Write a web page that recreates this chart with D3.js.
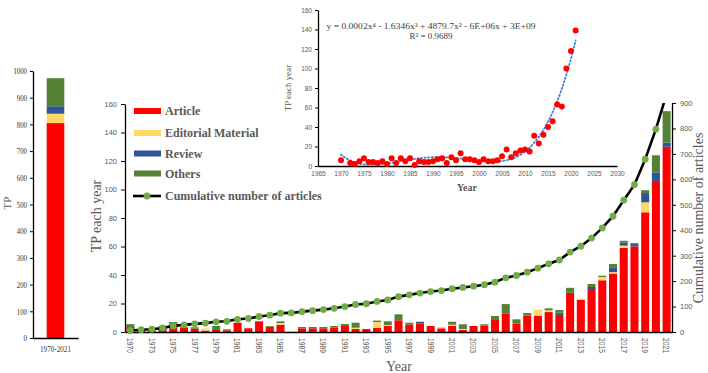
<!DOCTYPE html>
<html lang="en">
<head>
<meta charset="UTF-8">
<title>TP each year</title>
<style>
  body { margin: 0; background: #fff; }
  svg { display: block; }
  .tick text { font-family: "Liberation Sans", Arial, sans-serif; fill: #595959; }
  .serif { font-family: "Liberation Serif", "Times New Roman", serif; }
  .domain { stroke: #000; stroke-width: 1.3px; }
  .tick line { stroke: #000; }
</style>
</head>
<body>
<svg width="708" height="373"></svg>
<script src="https://d3js.org/d3.v7.min.js"></script>
<script>
// categories (no paper in 1971)
const years = [1970, 1972, 1973, 1974, 1975, 1976, 1977, 1978, 1979, 1980,
  1981, 1982, 1983, 1984, 1985, 1986, 1987, 1988, 1989, 1990,
  1991, 1992, 1993, 1994, 1995, 1996, 1997, 1998, 1999, 2000,
  2001, 2002, 2003, 2004, 2005, 2006, 2007, 2008, 2009, 2010,
  2011, 2012, 2013, 2014, 2015, 2016, 2017, 2018, 2019, 2020, 2021];

const article = [3.5, 1.5, 1, 2.3, 3.7, 3, 2.3, 1, 2, 1.2,
  6.5, 2.6, 7.5, 3.7, 5.1, 0, 2.6, 2.6, 2.6, 3,
  4.2, 2.1, 2.1, 3, 4.2, 8.2, 5.1, 6, 4.2, 2.6,
  4.4, 1.4, 4.2, 4.4, 8.4, 13.1, 6, 11.5, 11.5, 14,
  12, 27.5, 22.7, 30.2, 36.3, 41, 59, 60, 84, 106, 130];
const editorial = [0, 0, 0, 0, 0, 0, 0, 1.5, 0, 0,
  0, 0, 0, 0, 1.2, 0.5, 0, 0, 0, 0,
  0, 0.9, 0, 4, 0.7, 0, 0, 0, 0, 0.9,
  0.7, 0.7, 0, 0, 0, 0, 0, 0, 4.2, 1.2,
  0, 0, 0.7, 0, 2.3, 1, 1.6, 0, 7, 0, 0];
const review = [0, 0, 0, 0, 0, 0, 0, 0, 0, 0,
  0, 0, 0, 0, 0, 0, 0, 0, 0, 0,
  0, 0, 0, 0, 0, 0, 0, 1.2, 0, 0,
  0, 0, 0, 0, 0, 0, 0, 0, 0, 0,
  1.5, 0, 0, 1.4, 0, 3, 2.3, 1.7, 6.5, 6, 3];
const others = [2, 0.5, 0.5, 2, 3.3, 0.5, 1, 0, 2.3, 0.7,
  0, 0, 0, 0.5, 1.2, 0, 0.9, 0.9, 0.9, 1.2,
  1.4, 3.5, 0, 1, 2.6, 4.2, 1.4, 0, 0, 0,
  2.1, 3.3, 0, 1, 2.8, 6.5, 2.9, 1.8, 0, 1.4,
  2, 3.5, 0, 2.1, 0.9, 2.7, 1.1, 0.7, 2, 12, 22];
const cumulative = [6, 9, 11, 16, 24, 28, 32, 35, 40, 42,
  50, 53, 61, 66, 74, 75, 80, 84, 88, 93,
  100, 108, 111, 120, 126, 139, 146, 153, 159, 163,
  170, 175, 180, 186, 196, 213, 222, 235, 251, 268,
  283, 314, 337, 369, 409, 455, 518, 579, 679, 797, 936];

// inset: TP each year
const tpEachYear = [6, 3, 2, 5, 8, 4, 4, 3, 5, 2,
  8, 3, 8, 5, 8, 1, 5, 4, 4, 5,
  7, 8, 3, 9, 6, 13, 7, 7, 6, 4,
  7, 5, 5, 6, 10, 17, 9, 13, 16, 17,
  15, 31, 23, 32, 40, 46, 63, 61, 100, 118, 139];

// left panel: totals
const periodLabel = ["1970-2021"];
const totalValues = [805, 35, 28, 105];

const keys = ["Article", "Editorial Material", "Review", "Others"];
const color = d3.scaleOrdinal().domain(keys).range(["#ff0000", "#ffd966", "#2f5597", "#548235"]);
const dotColor = "#70ad47";
const grey = "#595959";

const svg = d3.select("svg");

// ---------- left panel ----------
const totalRow = { period: periodLabel[0] };
keys.forEach((k, i) => totalRow[k] = totalValues[i]);
const totalStack = d3.stack().keys(keys)([totalRow]);

const xT = d3.scaleBand().domain(periodLabel).range([33, 78]).paddingOuter(0.78);
const yT = d3.scaleLinear().domain([0, 1000]).range([338, 71]);

svg.append("g").selectAll("rect")
  .data(totalStack)
  .join("rect")
  .attr("x", xT(periodLabel[0]))
  .attr("width", xT.bandwidth())
  .attr("y", d => yT(d[0][1]))
  .attr("height", d => yT(d[0][0]) - yT(d[0][1]))
  .attr("fill", d => color(d.key));

const axT = svg.append("g").attr("transform", "translate(33,0)")
  .call(d3.axisLeft(yT).tickValues(d3.range(0, 1001, 100)).tickFormat(d3.format("d"))
    .tickSize(3).tickSizeOuter(0));
axT.selectAll("text").style("font-family", "Liberation Serif, serif")
  .style("font-size", "8.5px").style("fill", "#333")
  .attr("textLength", d => String(d).length * 3.4).attr("lengthAdjust", "spacingAndGlyphs");

const axTb = svg.append("g").attr("transform", "translate(0,338)")
  .call(d3.axisBottom(xT).tickSize(0).tickPadding(8));
axTb.selectAll("text").style("font-family", "Liberation Serif, serif")
  .style("font-size", "9px").style("fill", "#333")
  .attr("textLength", 31).attr("lengthAdjust", "spacingAndGlyphs").attr("x", -15.5)
  .style("text-anchor", "start");

svg.append("text").attr("class", "serif")
  .attr("transform", "translate(11,203) rotate(-90)")
  .attr("text-anchor", "middle")
  .style("font-size", "11px").style("fill", grey)
  .text("TP");

// ---------- main chart ----------
const table = years.map((yr, i) => ({
  year: yr, "Article": article[i], "Editorial Material": editorial[i],
  "Review": review[i], "Others": others[i]
}));
const series = d3.stack().keys(keys)(table);

const x = d3.scaleBand().domain(years).range([125, 672]).paddingInner(0.25).paddingOuter(0.125);
const y = d3.scaleLinear().domain([0, 160]).range([332, 104]);
const yR = d3.scaleLinear().domain([0, 900]).range([332, 103]);

svg.append("g").selectAll("g")
  .data(series)
  .join("g")
  .attr("fill", d => color(d.key))
  .selectAll("rect")
  .data(d => d)
  .join("rect")
  .attr("x", d => x(d.data.year))
  .attr("width", x.bandwidth())
  .attr("y", d => y(d[1]))
  .attr("height", d => y(d[0]) - y(d[1]));

const axL = svg.append("g").attr("transform", "translate(125,0)")
  .call(d3.axisLeft(y).tickValues(d3.range(0, 161, 20)).tickSize(4).tickSizeOuter(0).tickPadding(4));
axL.selectAll("text").style("font-size", "7.5px");

const axR = svg.append("g").attr("transform", "translate(672,0)")
  .call(d3.axisRight(yR).tickValues(d3.range(0, 901, 100)).tickSize(4).tickSizeOuter(0).tickPadding(4));
axR.selectAll("text").style("font-size", "7.5px");

const axB = svg.append("g").attr("transform", "translate(0,332)")
  .call(d3.axisBottom(x).tickValues(years.filter((d, i) => i % 2 === 0)).tickSize(0).tickSizeOuter(0));
axB.selectAll("text")
  .attr("x", 6).attr("y", 0).attr("dy", "0.35em")
  .attr("transform", "rotate(90)")
  .style("text-anchor", "start")
  .style("font-size", "9px")
  .attr("textLength", 15).attr("lengthAdjust", "spacingAndGlyphs");

svg.append("text").attr("class", "serif")
  .attr("transform", "translate(101,216) rotate(-90)")
  .attr("text-anchor", "middle")
  .style("font-size", "14px").style("fill", grey)
  .text("TP each year");

svg.append("text").attr("class", "serif")
  .attr("transform", "translate(703,218) rotate(-90)")
  .attr("text-anchor", "middle")
  .style("font-size", "14px").style("fill", grey)
  .text("Cumulative number of articles");

svg.append("text").attr("class", "serif")
  .attr("x", 399).attr("y", 371)
  .attr("text-anchor", "middle")
  .style("font-size", "14px").style("fill", grey)
  .text("Year");

// cumulative line (clipped to plot area)
svg.append("clipPath").attr("id", "plotClip")
  .append("rect").attr("x", 120).attr("y", 103).attr("width", 556).attr("height", 235);

const cum = svg.append("g").attr("clip-path", "url(#plotClip)");
const line = d3.line()
  .x((d, i) => x(years[i]) + x.bandwidth() / 2)
  .y(d => yR(d));
cum.append("path")
  .datum(cumulative)
  .attr("d", line)
  .attr("fill", "none")
  .attr("stroke", "#000")
  .attr("stroke-width", 2.6);
cum.selectAll("circle")
  .data(cumulative)
  .join("circle")
  .attr("cx", (d, i) => x(years[i]) + x.bandwidth() / 2)
  .attr("cy", d => yR(d))
  .attr("r", 3.4)
  .attr("fill", dotColor);

// legend
const legendRows = [...keys, "Cumulative number of articles"];
const legendY = [111, 133, 153.5, 173.5, 196];
const lg = svg.append("g");
legendRows.forEach((name, i) => {
  const cy = legendY[i];
  if (i < 4) {
    lg.append("rect").attr("x", 134).attr("y", cy - 3).attr("width", 27).attr("height", 6)
      .attr("fill", color(name));
  } else {
    lg.append("line").attr("x1", 133).attr("x2", 161).attr("y1", cy).attr("y2", cy)
      .attr("stroke", "#000").attr("stroke-width", 2.6);
    lg.append("circle").attr("cx", 147).attr("cy", cy).attr("r", 3.4).attr("fill", dotColor);
  }
  lg.append("text").attr("class", "serif")
    .attr("x", 165).attr("y", cy + 4)
    .style("font-size", "12px").style("font-weight", "bold").style("fill", grey)
    .text(name);
});

// ---------- inset ----------
const xi = d3.scaleLinear().domain([1965, 2030]).range([318, 617]);
const yi = d3.scaleLinear().domain([0, 160]).range([166, 10]);

const axIL = svg.append("g").attr("transform", "translate(318,0)")
  .call(d3.axisLeft(yi).tickValues(d3.range(0, 161, 20)).tickSize(3).tickSizeOuter(0).tickPadding(3));
axIL.selectAll("text").style("font-size", "6.5px");
const axIB = svg.append("g").attr("transform", "translate(0,166)")
  .call(d3.axisBottom(xi).tickValues(d3.range(1965, 2031, 5)).tickFormat(d3.format("d"))
    .tickSize(0).tickSizeOuter(0).tickPadding(5));
axIB.selectAll("text").style("font-size", "6.5px");

// degree-4 least squares trendline of the inset points
const tOf = yr => (yr - 1995) / 25;
const n = 5;
const A = Array.from({ length: n }, () => new Array(n + 1).fill(0));
years.forEach((yr, k) => {
  const t = tOf(yr);
  for (let r = 0; r < n; r++) {
    for (let c = 0; c < n; c++) A[r][c] += Math.pow(t, r + c);
    A[r][n] += tpEachYear[k] * Math.pow(t, r);
  }
});
for (let p = 0; p < n; p++) {
  let best = p;
  for (let r = p + 1; r < n; r++) if (Math.abs(A[r][p]) > Math.abs(A[best][p])) best = r;
  [A[p], A[best]] = [A[best], A[p]];
  for (let r = 0; r < n; r++) {
    if (r === p) continue;
    const f = A[r][p] / A[p][p];
    for (let c = p; c <= n; c++) A[r][c] -= f * A[p][c];
  }
}
const coef = A.map((row, i) => row[n] / row[i]);
const trend = yr => coef.reduce((s, c, i) => s + c * Math.pow(tOf(yr), i), 0);
const trendYears = d3.range(1970, 2021.01, 0.25);

svg.append("path")
  .datum(trendYears)
  .attr("d", d3.line().x(d => xi(d)).y(d => yi(trend(d))))
  .attr("fill", "none")
  .attr("stroke", "#3f7fcf")
  .attr("stroke-width", 1.8)
  .attr("stroke-dasharray", "1.2,2.4")
  .attr("stroke-linecap", "round");

svg.append("g").selectAll("circle")
  .data(tpEachYear)
  .join("circle")
  .attr("cx", (d, i) => xi(years[i]))
  .attr("cy", d => yi(d))
  .attr("r", 3)
  .attr("fill", "#ff0000");

svg.append("text").attr("class", "serif")
  .attr("x", 431).attr("y", 29).attr("text-anchor", "middle")
  .style("font-size", "9px").style("fill", "#404040")
  .attr("textLength", 209).attr("lengthAdjust", "spacingAndGlyphs")
  .text("y = 0.0002x\u2074 - 1.6346x\u00b3 + 4879.7x\u00b2 - 6E+06x + 3E+09");
svg.append("text").attr("class", "serif")
  .attr("x", 431).attr("y", 38.5).attr("text-anchor", "middle")
  .style("font-size", "9px").style("fill", "#404040")
  .text("R\u00b2 = 0.9689");

svg.append("text").attr("class", "serif")
  .attr("transform", "translate(291,88) rotate(-90)")
  .attr("text-anchor", "middle")
  .style("font-size", "9px").style("fill", grey)
  .text("TP each year");
svg.append("text").attr("class", "serif")
  .attr("x", 467).attr("y", 191).attr("text-anchor", "middle")
  .style("font-size", "10px").style("font-weight", "bold").style("fill", grey)
  .text("Year");
</script>
</body>
</html>
